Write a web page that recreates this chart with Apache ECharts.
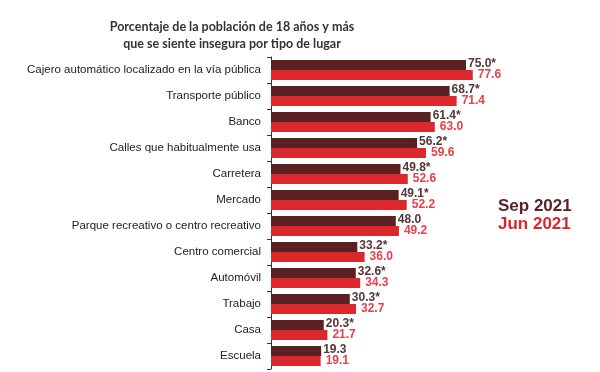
<!DOCTYPE html>
<html><head><meta charset="utf-8">
<script src="https://cdn.jsdelivr.net/npm/echarts@6/dist/echarts.min.js"></script>
<style>html,body{margin:0;padding:0;background:#fff}#c{width:600px;height:372px}</style>
</head><body><div id="c"></div>
<script>
const categories = ["Cajero automático localizado en la vía pública","Transporte público","Banco","Calles que habitualmente usa","Carretera","Mercado","Parque recreativo o centro recreativo","Centro comercial","Automóvil","Trabajo","Casa","Escuela"];
const sep2021 = [75.0,68.7,61.4,56.2,49.8,49.1,48.0,33.2,32.6,30.3,20.3,19.3];
const jun2021 = [77.6,71.4,63.0,59.6,52.6,52.2,49.2,36.0,34.3,32.7,21.7,19.1];
const sepMarks = ["*","*","*","*","*","*","","*","*","*","*",""];
const seriesNames = ["Sep 2021","Jun 2021"];
const titleText = "Porcentaje de la población de 18 años y más\nque se siente insegura por tipo de lugar";

const chart = echarts.init(document.getElementById('c'), null, {renderer:'canvas'});
chart.setOption({
  animation:false,
  backgroundColor:'#fff',
  title:{text:titleText,left:227,top:13,textAlign:'center',
    textStyle:{fontFamily:'Lato',fontWeight:'bold',fontSize:12.5,color:'#333',lineHeight:17}},
  legend:{orient:'vertical',left:488,top:193,itemGap:1,icon:'none',itemWidth:0,itemHeight:0,
    selectedMode:false,
    data:[{name:seriesNames[0],textStyle:{color:'#5a2324'}},{name:seriesNames[1],textStyle:{color:'#d9262c'}}],
    textStyle:{fontFamily:'Arial',fontWeight:'bold',fontSize:17,padding:0}},
  grid:{left:271,top:57,height:312,width:260},
  xAxis:{type:'value',min:0,max:100,show:false},
  yAxis:{type:'category',data:categories,inverse:true,
    axisLine:{show:true,lineStyle:{color:'#333',width:1}},
    axisTick:{show:true,length:4,lineStyle:{color:'#333'}},
    axisLabel:{margin:10,fontFamily:'Arial',fontSize:11.5,color:'#222'}},
  series:[
    {name:seriesNames[0],type:'bar',data:sep2021,barWidth:10,barGap:'0%',
     itemStyle:{color:'#5b2122'},
     label:{show:true,position:'right',distance:2,offset:[0,-1],fontFamily:'Arial',fontWeight:'bold',fontSize:12,color:'#553636',
       formatter:p=>p.value.toFixed(1)+sepMarks[p.dataIndex]}},
    {name:seriesNames[1],type:'bar',data:jun2021,barWidth:10,barGap:'0%',
     itemStyle:{color:'#da282c'},
     label:{show:true,position:'right',distance:5,fontFamily:'Arial',fontWeight:'bold',fontSize:12,color:'#e4414a',
       formatter:p=>p.value.toFixed(1)}}
  ]
});
</script></body></html>
